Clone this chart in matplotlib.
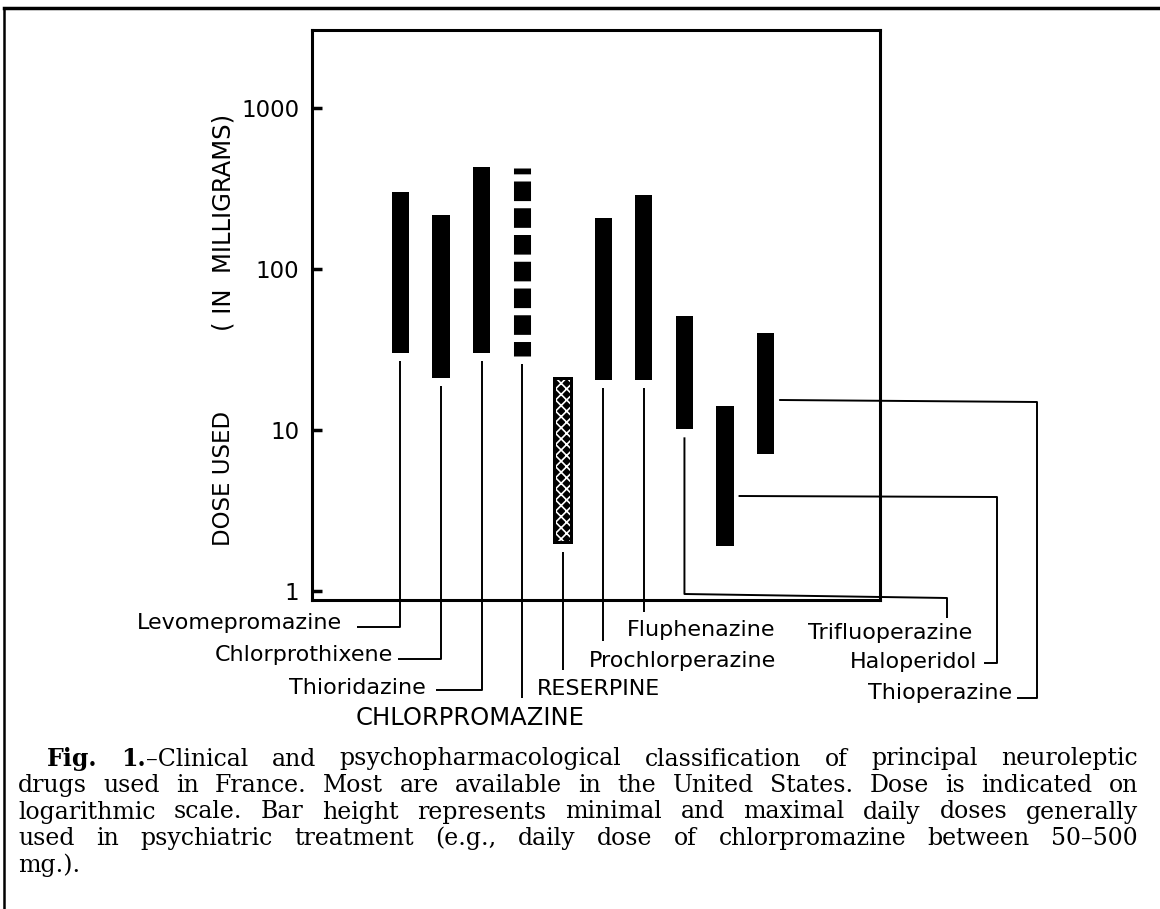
import matplotlib
matplotlib.use("Agg")
import matplotlib.pyplot as plt
import numpy as np
from matplotlib.ticker import NullLocator

# drugs, left to right, with minimal / maximal daily dose (mg)
drugs = ["Levomepromazine", "Chlorprothixene", "Thioridazine", "CHLORPROMAZINE",
         "RESERPINE", "Prochlorperazine", "Fluphenazine", "Trifluoperazine",
         "Haloperidol", "Thioperazine"]
dose_min = [30, 21, 30, 29, 1.95, 20.5, 20.5, 10.1, 1.9, 7.1]
dose_max = [300, 215, 430, 425, 21.5, 207, 290, 51, 14.2, 40]

yticks = [1, 10, 100, 1000]
ytick_labels = ["1", "10", "100", "1000"]

caption = [
    "Fig. 1.–Clinical and psychopharmacological classification of principal neuroleptic",
    "drugs used in France. Most are available in the United States. Dose is indicated on",
    "logarithmic scale. Bar height represents minimal and maximal daily doses generally",
    "used in psychiatric treatment (e.g., daily dose of chlorpromazine between 50–500",
    "mg.).",
]

W, H = 1160, 909
plt.rcParams['hatch.linewidth'] = 1.2
fig = plt.figure(figsize=(W / 100, H / 100), dpi=100)

ax = fig.add_axes([312 / W, 1 - 600 / H, 568 / W, 570 / H])
x = np.arange(len(drugs))
bw = 0.42

for i in range(len(drugs)):
    if i == 3:
        continue
    if i == 4:
        # reserpine: black bar with a light checked pattern inside
        ax.bar(x[i], dose_max[i] - dose_min[i], bottom=dose_min[i], width=bw + 0.08,
               color='black', linewidth=0)
        ax.bar(x[i], dose_max[i] / 1.05 - dose_min[i] * 1.05, bottom=dose_min[i] * 1.05,
               width=bw - 0.08, facecolor='none', edgecolor='white', hatch='xxx', linewidth=0)
    else:
        ax.bar(x[i], dose_max[i] - dose_min[i], bottom=dose_min[i], width=bw,
               color='black', linewidth=0)

ax.set_yscale('log')
ax.set_ylim(0.88, 3050)
ax.set_xlim(-2.18, 11.82)

# chlorpromazine drawn as a broken (dashed) bar
bar_px = bw * 568 / 14.0
ax.vlines(x[3], dose_min[3], dose_max[3], colors='black',
          linewidth=bar_px * 72 / 100, linestyles=(0.3, (1.15, 0.42)), capstyle='butt')

ax.set_yticks(yticks)
ax.set_yticklabels(ytick_labels)
ax.yaxis.set_minor_locator(NullLocator())
ax.tick_params(axis='y', direction='in', length=7, width=2.5, labelsize=16.5, pad=9)
ax.tick_params(axis='x', bottom=False, labelbottom=False)
for s in ax.spines.values():
    s.set_linewidth(2.2)

# overlay in pixel coordinates for leader lines, labels and caption
ov = fig.add_axes([0, 0, 1, 1], facecolor='none')
ov.set_xlim(0, W)
ov.set_ylim(H, 0)
ov.axis('off')


def px(xd, yd):
    d = ax.transData.transform((xd, yd))
    return ov.transData.inverted().transform(d)


lab_font = dict(family='DejaVu Sans', fontsize=16, color='black')
caps_size = {3: 17.5, 4: 16}

# leader lines: (route after bar, label position, alignment)
routes = [
    ([(None, 627), (357, 627)], (342, 623), 'right'),
    ([(None, 659), (398, 659)], (393, 655), 'right'),
    ([(None, 690), (436, 690)], (426, 688), 'right'),
    ([(None, 698)], (470, 718), 'center'),
    ([(None, 670)], (537, 689), 'left'),
    ([(None, 641)], (589, 661), 'left'),
    ([(None, 612)], (627, 630), 'left'),
    ([(None, 594), (947, 598), (947, 618)], (808, 633), 'left'),
]
for i, (pts, lpos, ha) in enumerate(routes):
    cx, by = px(x[i], dose_min[i])
    xs = [cx, cx]
    ys = [by + 8, pts[0][1]]
    for p in pts[1:]:
        xs.append(p[0])
        ys.append(p[1])
    ov.plot(xs, ys, color='black', lw=1.4, solid_capstyle='butt')
    fnt = dict(lab_font)
    if i in caps_size:
        fnt['fontsize'] = caps_size[i]
    ov.text(lpos[0], lpos[1], drugs[i], ha=ha, va='center', **fnt)

# haloperidol and thioperazine: leaders leave from the right side of the bar
side = [(8, 496, [(997, 497), (997, 663), (985, 663)], (977, 662)),
        (9, 400, [(1037, 402), (1037, 698), (1018, 698)], (1012, 693))]
for i, yy, pts, lpos in side:
    cx, _ = px(x[i] + bw / 2, 10)
    xs = [cx + 6] + [p[0] for p in pts]
    ys = [yy] + [p[1] for p in pts]
    ov.plot(xs, ys, color='black', lw=1.4)
    ov.text(lpos[0], lpos[1], drugs[i], ha='right', va='center', **lab_font)

# y axis title
ov.text(223, 478, "DOSE USED", rotation=90, ha='center', va='center',
        family='DejaVu Sans', fontsize=16.5)
ov.text(223, 222, "( IN  MILLIGRAMS)", rotation=90, ha='center', va='center',
        family='DejaVu Sans', fontsize=17.5)

# outer frame of the figure
ov.plot([4, W], [8, 8], color='black', lw=2.5)
ov.plot([4, 4], [8, H], color='black', lw=1.8)

# caption, justified line by line
r = fig.canvas.get_renderer()
serif = dict(family='DejaVu Serif', fontsize=17, color='black')
line_y = [759, 785.5, 812, 838.5, 865]
for k, line in enumerate(caption):
    x0 = 47 if k == 0 else 18
    x1 = 1138
    words = line.split(' ')
    parts = []
    for w in words:
        if w == "1.–Clinical":
            parts.append([("1.", 'bold'), ("–Clinical", 'normal')])
        elif w == "Fig.":
            parts.append([("Fig.", 'bold')])
        else:
            parts.append([(w, 'normal')])
    objs = []
    widths = []
    for p in parts:
        pw = 0
        ts = []
        for s, wt in p:
            t = ov.text(0, line_y[k], s, ha='left', va='center', fontweight=wt, **serif)
            wpx = t.get_window_extent(renderer=r).width
            ts.append((t, wpx))
            pw += wpx
        objs.append(ts)
        widths.append(pw)
    if k == len(caption) - 1:
        gap = 6
    else:
        gap = (x1 - x0 - sum(widths)) / (len(widths) - 1)
    cur = x0
    for ts, pw in zip(objs, widths):
        c = cur
        for t, wpx in ts:
            t.set_x(c)
            c += wpx
        cur += pw + gap

fig.savefig("out.png", dpi=100)
